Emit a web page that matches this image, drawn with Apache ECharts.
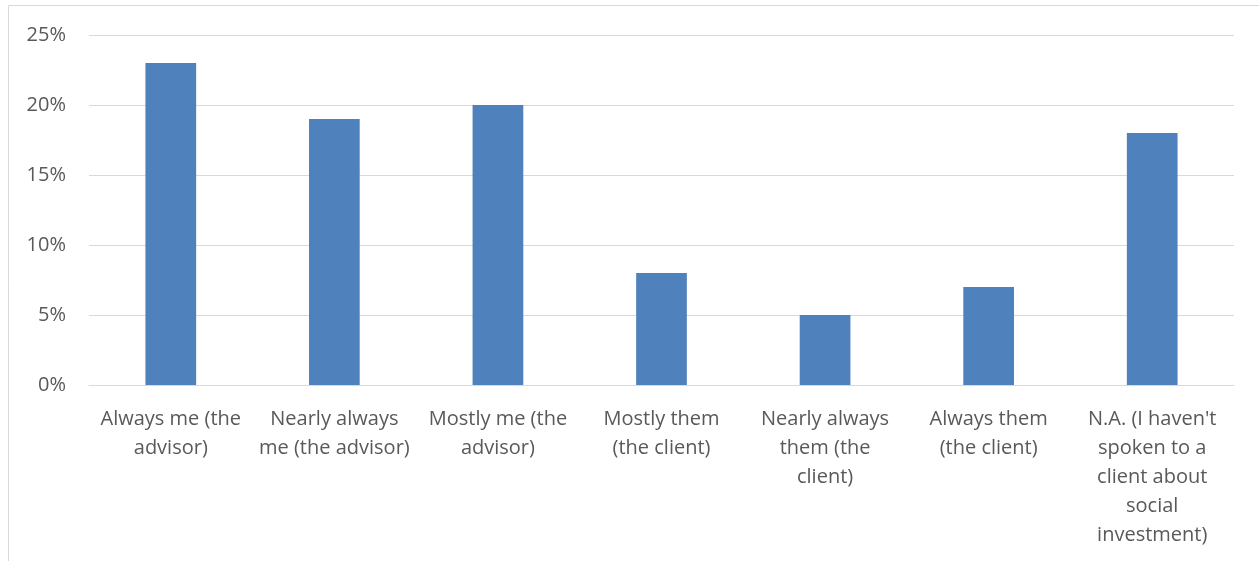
<!DOCTYPE html>
<html>
<head>
<meta charset="utf-8">
<script src="https://cdn.jsdelivr.net/npm/echarts@6/dist/echarts.min.js"></script>
<style>
html,body{margin:0;padding:0;background:#fff;}
#chart{width:1259px;height:561px;}
</style>
</head>
<body>
<div id="chart"></div>
<script>
const categories = [
  "Always me (the\nadvisor)",
  "Nearly always\nme (the advisor)",
  "Mostly me (the\nadvisor)",
  "Mostly them\n(the client)",
  "Nearly always\nthem (the\nclient)",
  "Always them\n(the client)",
  "N.A. (I haven't\nspoken to a\nclient about\nsocial\ninvestment)"
];
const values = [23, 19, 20, 8, 5, 7, 18];
const yTicks = { min: 0, max: 25, interval: 5 };

const chart = echarts.init(document.getElementById('chart'));
chart.setOption({
  animation: false,
  backgroundColor: '#fff',
  graphic: [{
    type: 'rect',
    shape: { x: 8.5, y: 5.5, width: 1300, height: 600 },
    style: { fill: 'none', stroke: '#d9d9d9', lineWidth: 1 },
    silent: true
  }],
  grid: { left: 89, right: 25, top: 35, bottom: 176, containLabel: false },
  xAxis: {
    type: 'category',
    data: categories,
    axisLine: { show: true, lineStyle: { color: '#d9d9d9', width: 1 } },
    axisTick: { show: false },
    axisLabel: {
      interval: 0,
      color: '#595959',
      fontFamily: 'Open Sans',
      fontSize: 20,
      lineHeight: 29,
      margin: 20,
      align: 'center'
    }
  },
  yAxis: {
    type: 'value',
    min: yTicks.min, max: yTicks.max, interval: yTicks.interval,
    axisLine: { show: false },
    axisTick: { show: false },
    splitLine: { lineStyle: { color: '#d9d9d9', width: 1 } },
    axisLabel: {
      formatter: '{value}%',
      color: '#595959',
      fontFamily: 'Open Sans',
      fontSize: 20,
      margin: 23
    }
  },
  series: [{
    type: 'bar',
    data: values,
    barWidth: '31%',
    itemStyle: { color: '#4f81bd' }
  }]
});
</script>
</body>
</html>
